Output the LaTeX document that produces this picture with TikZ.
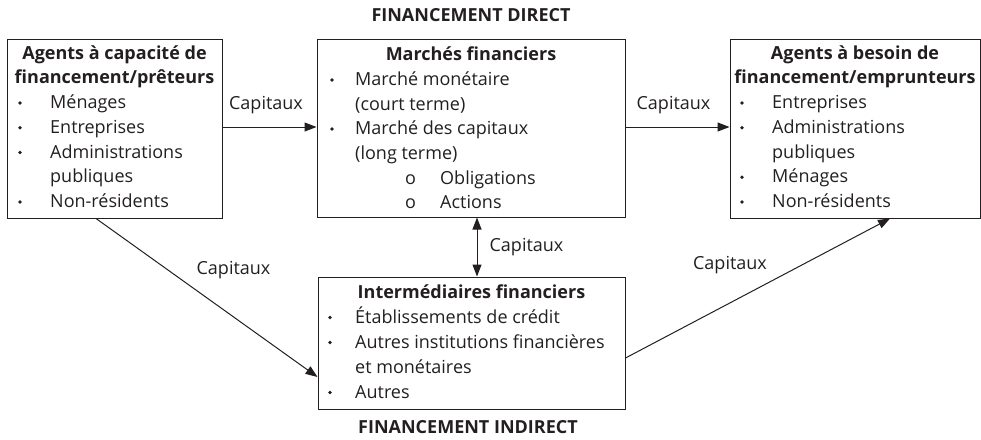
\documentclass[tikz,border=0pt]{standalone}
\usepackage{fontspec}
\setmainfont{Open Sans}
\usetikzlibrary{arrows.meta}
\definecolor{ink}{HTML}{231F20}
\begin{document}
\begin{tikzpicture}[x=1pt,y=-1pt,
  box/.style={draw=ink, line width=1pt, rectangle, inner sep=0pt},
  txt/.style={anchor=base west, inner sep=0pt, text=ink, font=\fontsize{18}{21}\selectfont},
  ttl/.style={anchor=base, inner sep=0pt, text=ink, font=\fontsize{18}{21}\selectfont\bfseries},
  dot/.style={circle, fill=ink, inner sep=0pt, minimum size=3.8pt},
  lab/.style={anchor=base, inner sep=0pt, text=ink, font=\fontsize{18}{21}\selectfont},
  arr/.style={draw=ink, line width=1pt, -{Triangle[length=12pt,width=9pt]}},
  darr/.style={draw=ink, line width=1pt, {Triangle[length=12pt,width=9pt]}-{Triangle[length=12pt,width=9pt]}}]
\useasboundingbox (0,0) rectangle (981,439);

% boxes
\node[box, minimum width=215pt, minimum height=179pt] (box1) at (114.5,128.5) {};
\node[box, minimum width=308pt, minimum height=178pt] (box2) at (471,128) {};
\node[box, minimum width=250pt, minimum height=179pt] (box3) at (855,128.5) {};
\node[box, minimum width=307pt, minimum height=132pt] (box4) at (471.5,343) {};

% headings
\node[ttl] (hd) at (471,21) {FINANCEMENT DIRECT};
\node[ttl] (hi) at (468,433) {FINANCEMENT INDIRECT};

% box 1
\node[ttl] (t1a) at (114.5,59) {Agents à capacité de};
\node[ttl] (t1b) at (114.5,83.75) {financement/prêteurs};
\node[dot] (d1a) at (20,103) {};
\node[txt] (l1a) at (50,108.5) {Ménages};
\node[dot] (d1b) at (20,127.75) {};
\node[txt] (l1b) at (50,133.25) {Entreprises};
\node[dot] (d1c) at (20,152.5) {};
\node[txt] (l1c) at (50,158) {Administrations};
\node[txt] (l1d) at (50,182.75) {publiques};
\node[dot] (d1e) at (20,202) {};
\node[txt] (l1e) at (50,207.5) {Non-résidents};

% box 2
\node[ttl] (t2) at (471,60.5) {Marchés financiers};
\node[dot] (d2a) at (332,80) {};
\node[txt] (l2a) at (355,85.5) {Marché monétaire};
\node[txt] (l2b) at (355,110) {(court terme)};
\node[dot] (d2c) at (332,129) {};
\node[txt] (l2c) at (355,134.5) {Marché des capitaux};
\node[txt] (l2d) at (355,159) {(long terme)};
\node[txt] (o2e) at (405,184) {o};
\node[txt] (l2e) at (440,184) {Obligations};
\node[txt] (o2f) at (405,208.5) {o};
\node[txt] (l2f) at (440,208.5) {Actions};

% box 3
\node[ttl] (t3a) at (855,59) {Agents à besoin de};
\node[ttl] (t3b) at (855,83.75) {financement/emprunteurs};
\node[dot] (d3a) at (742,103) {};
\node[txt] (l3a) at (772,108.5) {Entreprises};
\node[dot] (d3b) at (742,127.75) {};
\node[txt] (l3b) at (772,133.25) {Administrations};
\node[txt] (l3c) at (772,158) {publiques};
\node[dot] (d3d) at (742,177.25) {};
\node[txt] (l3d) at (772,182.75) {Ménages};
\node[dot] (d3e) at (742,202) {};
\node[txt] (l3e) at (772,207.5) {Non-résidents};

% box 4
\node[ttl] (t4) at (471.5,298) {Intermédiaires financiers};
\node[dot] (d4a) at (330,317.5) {};
\node[txt] (l4a) at (355,323) {Établissements de crédit};
\node[dot] (d4b) at (330,342.5) {};
\node[txt] (l4b) at (355,348) {Autres institutions financières};
\node[txt] (l4c) at (355,373) {et monétaires};
\node[dot] (d4d) at (330,392.5) {};
\node[txt] (l4d) at (355,398) {Autres};

% connectors
\coordinate (hy) at (0,127);
\coordinate (vx) at (477,0);
\coordinate (s1) at (96,0);
\coordinate (w4) at (0,377);
\coordinate (e4) at (0,358);
\coordinate (s3) at (890,0);
\draw[arr] (box1.east |- hy) -- (box2.west |- hy);
\draw[arr] (box2.east |- hy) -- (box3.west |- hy);
\draw[darr] (box2.south -| vx) -- (box4.north -| vx);
\draw[arr] (box1.south -| s1) -- (box4.west |- w4);
\draw[arr] (box4.east |- e4) -- (box3.south -| s3);

% labels
\node[lab] (c1) at (266,109) {Capitaux};
\node[lab] (c2) at (673.5,109) {Capitaux};
\node[lab] (c3) at (526.5,251) {Capitaux};
\node[lab] (c4) at (233.5,274) {Capitaux};
\node[lab] (c5) at (730,269) {Capitaux};
\end{tikzpicture}
\end{document}
